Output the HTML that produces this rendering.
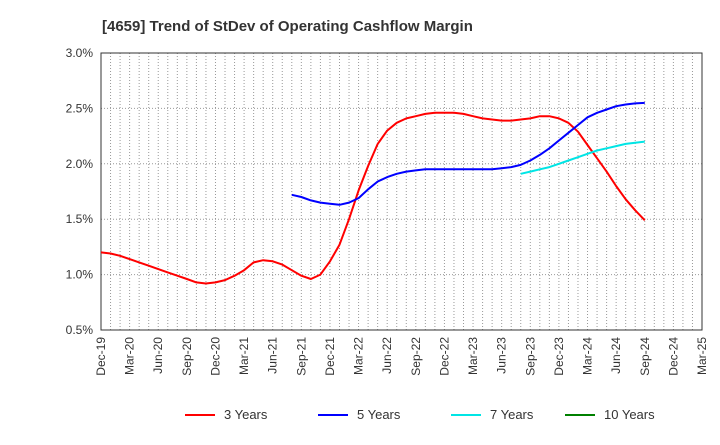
<!DOCTYPE html>
<html><head><meta charset="utf-8"><style>
body{margin:0;background:#fff;font-family:"Liberation Sans",sans-serif}
</style></head><body>
<svg id="chart" width="720" height="440" xmlns="http://www.w3.org/2000/svg" font-family="Liberation Sans, sans-serif">
<text x="102" y="31" font-size="15" font-weight="bold" fill="#333">[4659]  Trend of StDev of Operating Cashflow Margin</text>
<g id="grid"></g>
<g id="axes"></g>
<g id="series"></g>
<g id="legend"></g>
</svg>
<script>
const xLabels=["Dec-19","Mar-20","Jun-20","Sep-20","Dec-20","Mar-21","Jun-21","Sep-21","Dec-21","Mar-22","Jun-22","Sep-22","Dec-22","Mar-23","Jun-23","Sep-23","Dec-23","Mar-24","Jun-24","Sep-24","Dec-24","Mar-25"];
const yTicks=[0.5,1.0,1.5,2.0,2.5,3.0];
const red3=[1.20,1.19,1.17,1.14,1.11,1.08,1.05,1.02,0.99,0.96,0.93,0.92,0.93,0.95,0.99,1.04,1.11,1.13,1.12,1.09,1.04,0.99,0.96,1.00,1.12,1.27,1.50,1.76,1.98,2.18,2.30,2.37,2.41,2.43,2.45,2.46,2.46,2.46,2.45,2.43,2.41,2.40,2.39,2.39,2.40,2.41,2.43,2.43,2.41,2.37,2.29,2.17,2.05,1.93,1.80,1.68,1.58,1.49];
const start5=20;
const blue5=[1.72,1.70,1.67,1.65,1.64,1.63,1.65,1.69,1.77,1.84,1.88,1.91,1.93,1.94,1.95,1.95,1.95,1.95,1.95,1.95,1.95,1.95,1.96,1.97,1.99,2.03,2.08,2.14,2.21,2.28,2.35,2.42,2.46,2.49,2.52,2.535,2.545,2.55];
const start7=44;
const cyan7=[1.91,1.93,1.95,1.97,2.00,2.03,2.06,2.09,2.12,2.14,2.16,2.18,2.19,2.20];
const legendNames=["3 Years","5 Years","7 Years","10 Years"];
const legendColors=["#ff0000","#0000ff","#00e5e5","#008000"];

const NS="http://www.w3.org/2000/svg";
const L=101,R=702,T=53,B=330,months=63;
const xm=m=>L+m*(R-L)/months;
const y=v=>B-(v-0.5)/2.5*(B-T);
function mk(tag,attrs,parent){const e=document.createElementNS(NS,tag);for(const k in attrs)e.setAttribute(k,attrs[k]);parent.appendChild(e);return e;}
const grid=document.getElementById('grid'),axes=document.getElementById('axes'),ser=document.getElementById('series'),leg=document.getElementById('legend');
for(let m=1;m<months;m++){
  const l=mk('line',{x1:xm(m),x2:xm(m),y1:T,y2:B,stroke:'#999','stroke-width':1,'stroke-dasharray':'1,2'},grid);
  
  
}
yTicks.forEach(v=>{
  if(v>0.5&&v<3){const l=mk('line',{x1:L,x2:R,y1:y(v),y2:y(v),stroke:'#999','stroke-width':1,'stroke-dasharray':'1,2'},grid);
  
  }
  const t=mk('text',{x:L-8,y:y(v)+4,'text-anchor':'end','font-size':12,fill:'#333'},axes);
  t.textContent=v.toFixed(1)+'%';
  
  
});
const frame=mk('rect',{x:L,y:T,width:R-L,height:B-T,fill:'none',stroke:'#333','stroke-width':1},axes);


xLabels.forEach((s,i)=>{
  const x=xm(i*3);
  const t=mk('text',{x:x+4,y:B+7,'text-anchor':'end','font-size':12,fill:'#333',transform:`rotate(-90 ${x+4} ${B+7})`},axes);
  t.textContent=s;
  
  
});
function line(arr,start,color,name){
  const pts=arr.map((v,i)=>xm(start+i).toFixed(1)+','+y(v).toFixed(1)).join(' ');
  const p=mk('polyline',{points:pts,fill:'none',stroke:color,'stroke-width':2,'stroke-linejoin':'round'},ser);
  
  
}
line(red3,0,legendColors[0],'line-3-years');
line(blue5,start5,legendColors[1],'line-5-years');
line(cyan7,start7,legendColors[2],'line-7-years');
const lx=[185,318,451,565];
legendNames.forEach((n,i)=>{
  const g=mk('g',{},leg);
  
  
  mk('line',{x1:lx[i],x2:lx[i]+30,y1:415,y2:415,stroke:legendColors[i],'stroke-width':2},g);
  const t=mk('text',{x:lx[i]+39,y:419,'font-size':13,fill:'#333'},g);
  t.textContent=n;
});
</script>
</body></html>
